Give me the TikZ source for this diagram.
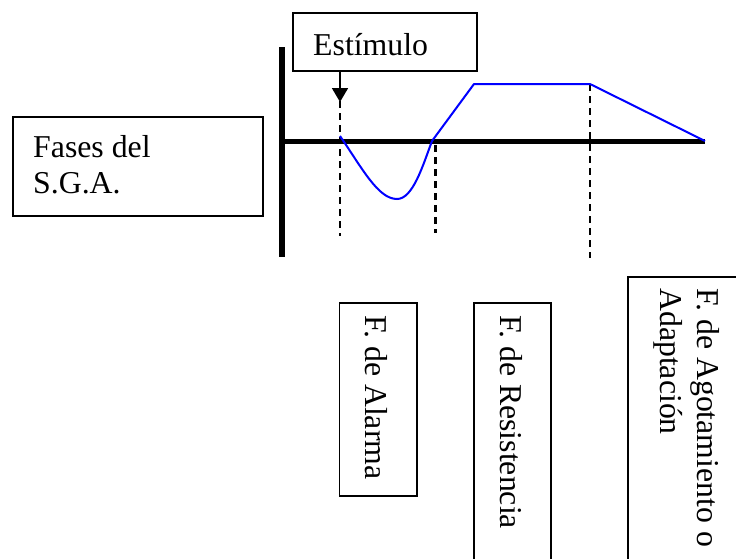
\documentclass[tikz,border=0pt]{standalone}
\usepackage{fontspec}
\setmainfont{Liberation Serif}
\usetikzlibrary{arrows.meta}
\begin{document}
\begin{tikzpicture}[x=1pt,y=-1pt,
  every node/.style={font=\fontsize{31.8}{36.7}\selectfont, inner sep=0pt},
  labelbox/.style={draw=black, line width=1.8pt, fill=white},
  axisline/.style={line width=5.8pt, line cap=butt},
  phase/.style={dashed, dash pattern=on 7pt off 5pt, line width=2.2pt},
  curve/.style={blue, line width=2pt, line join=round},
  rottext/.style={rotate=-90, anchor=base west}]
\useasboundingbox (0,0) rectangle (736,558);
% boxes
\draw[labelbox] (13,117) rectangle (263,216);
\node[anchor=base west] (fases1) at (33,157) {Fases del};
\node[anchor=base west] (fases2) at (33,193.5) {S.G.A.};
\draw[labelbox] (293,13) rectangle (477,71);
\node[anchor=base west] (estimulo) at (313,55) {Estímulo};
% axes
\coordinate (vtop) at (282,47);
\coordinate (vbot) at (282,257);
\coordinate (hleft) at (282,141.5);
\coordinate (hright) at (705,141.5);
\draw[axisline] (vtop) -- (vbot);
\draw[axisline] (hleft) -- (hright);
% dashed phase lines
\coordinate (d1t) at (340,101);
\coordinate (d1b) at (340,236);
\coordinate (d2t) at (435.5,145);
\coordinate (d2b) at (435.5,233);
\coordinate (d3t) at (590,84);
\coordinate (d3b) at (590,258);
\draw[phase] (d1t) -- (d1b);
\draw[phase] (d2t) -- (d2b);
\draw[phase] (d3t) -- (d3b);
% stimulus arrow
\coordinate (arrS) at (340,71);
\coordinate (arrE) at (340,102);
\draw[line width=1.8pt, -{Triangle[length=14pt,width=16pt]}] (arrS) -- (arrE);
% curve
\coordinate (c0) at (340,136);
\coordinate (cmin) at (397,199);
\coordinate (c1) at (432,141);
\coordinate (c2) at (474,84);
\coordinate (c3) at (590,84);
\coordinate (c4) at (705,141);
\draw[curve] (c0) .. controls (362,168) and (378,199) .. (cmin)
  .. controls (413,199) and (423,165) .. (c1) -- (c2) -- (c3) -- (c4);
% bottom boxes
\draw[labelbox] (339.5,303) rectangle (417,496);
\node[rottext] (alarma) at (365.5,315) {F. de Alarma};
\draw[labelbox] (474,303) rectangle (551,570);
\node[rottext] (resist) at (500.5,315) {F. de Resistencia};
\draw[labelbox] (628,277) rectangle (745,570);
\node[rottext] (agot1) at (697.5,288) {F. de Agotamiento o};
\node[rottext] (agot2) at (660.5,288) {Adaptación};
\end{tikzpicture}
\end{document}
